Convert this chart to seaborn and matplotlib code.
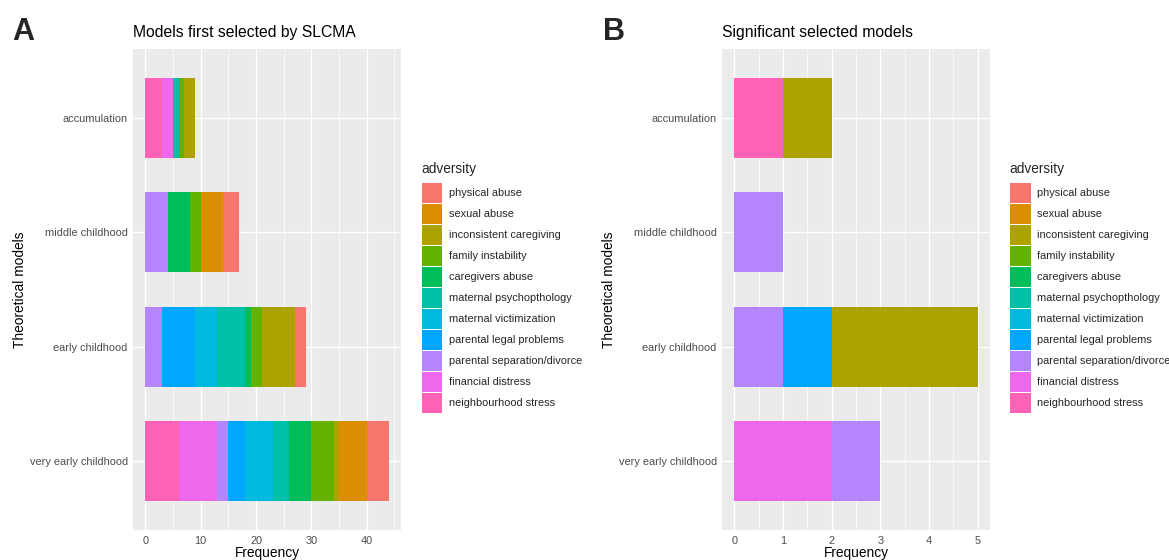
import numpy as np
import pandas as pd
import matplotlib
matplotlib.use("Agg")
import matplotlib.pyplot as plt
import seaborn as sns
from matplotlib.patches import Patch
from matplotlib.ticker import MultipleLocator

# ---------------- data ----------------
models = ["accumulation", "middle childhood", "early childhood", "very early childhood"]
adversities = ["physical abuse", "sexual abuse", "inconsistent caregiving",
               "family instability", "caregivers abuse", "maternal psychopthology",
               "maternal victimization", "parental legal problems",
               "parental separation/divorce", "financial distress",
               "neighbourhood stress"]
colors = ["#F8766D", "#DB8E00", "#AEA200", "#64B200", "#00BD5C", "#00C1A7",
          "#00BADE", "#00A6FF", "#B385FF", "#EF67EB", "#FF63B6"]

# counts per adversity (same order as `adversities`)
first_accumulation = [0, 0, 2, 1, 0, 1, 0, 0, 0, 2, 3]
first_middle = [3, 4, 0, 2, 4, 0, 0, 0, 4, 0, 0]
first_early = [2, 0, 6, 2, 1, 5, 4, 6, 3, 0, 0]
first_very_early = [4, 5, 1, 4, 4, 3, 5, 3, 2, 7, 6]

sig_accumulation = [0, 0, 1, 0, 0, 0, 0, 0, 0, 0, 1]
sig_middle = [0, 0, 0, 0, 0, 0, 0, 0, 1, 0, 0]
sig_early = [0, 0, 3, 0, 0, 0, 0, 1, 1, 0, 0]
sig_very_early = [0, 0, 0, 0, 0, 0, 0, 0, 1, 2, 0]

x_ticks_A = [0, 10, 20, 30, 40]
x_ticks_B = [0, 1, 2, 3, 4, 5]

# ---------------- style ----------------
sns.set_theme(style="darkgrid", rc={
    "axes.facecolor": "#EBEBEB",
    "figure.facecolor": "white",
    "grid.color": "white",
})
plt.rcParams["font.family"] = ["Liberation Sans", "DejaVu Sans"]

W, H = 1169, 560
fig = plt.figure(figsize=(W / 100, H / 100), dpi=100)


def fx(px):
    return px / W


def fy(py):
    return 1 - py / H


axA = fig.add_axes([fx(133.3), fy(530), fx(401 - 133.3), (530 - 49) / H])
axB = fig.add_axes([fx(722.3), fy(530), fx(990 - 722.3), (530 - 49) / H])


def draw(ax, rows, xlim, xticks, minor, title):
    df = pd.DataFrame(rows, index=models, columns=adversities)
    # stacked: last level sits at the baseline, first level on the far end
    cum = df.iloc[:, ::-1].cumsum(axis=1).iloc[:, ::-1]
    for i, adv in enumerate(adversities):
        d = pd.DataFrame({"model": models, "end": cum[adv].values,
                          "val": df[adv].values})
        d = d[d["val"] > 0]
        if d.empty:
            continue
        sns.barplot(data=d, x="end", y="model", order=models, color=colors[i],
                    width=0.7, saturation=1, errorbar=None, orient="h",
                    linewidth=0, ax=ax)
    ax.set_xlim(*xlim)
    ax.set_ylim(3.6, -0.6)
    ax.set_xticks(xticks)
    ax.xaxis.set_minor_locator(MultipleLocator(minor))
    ax.grid(which="major", axis="x", color="white", lw=1.0)
    ax.grid(which="minor", axis="x", color="white", lw=0.5)
    ax.yaxis.grid(True, which="major", color="white", lw=1.0)
    ax.set_axisbelow(True)
    for s in ax.spines.values():
        s.set_visible(False)
    ax.tick_params(axis="both", which="major", length=2.45, width=0.8,
                   color="#333333", labelsize=7.9, labelcolor="#4D4D4D", pad=1.6)
    ax.tick_params(axis="both", which="minor", length=0)
    ax.set_xlabel("Frequency", fontsize=9.9, color="black", va="top")
    ax.xaxis.set_label_coords(0.5, -(546.4 - 530) / 481)
    ax.set_ylabel("Theoretical models", fontsize=9.9, color="black")
    ax.yaxis.set_label_coords(-(133.3 - 27) / 267.7, 0.5)
    ax.set_title(title, loc="left", fontsize=11.3, pad=8.3, color="black")


draw(axA, [first_accumulation, first_middle, first_early, first_very_early],
     (-2.2, 46.2), x_ticks_A, 5, "Models first selected by SLCMA")
draw(axB, [sig_accumulation, sig_middle, sig_early, sig_very_early],
     (-0.25, 5.25), x_ticks_B, 0.5, "Significant selected models")

handles = [Patch(facecolor=c, edgecolor="none") for c in colors]
for kx, tx in [(421.7, 421.7), (1010, 1009)]:
    fig.legend(handles, adversities, loc="upper left",
               bbox_to_anchor=(fx(kx), fy(182.7)), frameon=False, borderpad=0,
               borderaxespad=0, fontsize=7.9, handlelength=1.88,
               handleheight=2.42, handletextpad=0.6, labelspacing=0.1)
    fig.text(fx(tx), fy(173.3), "adversity", fontsize=9.9, va="baseline")

fig.text(fx(12.7), fy(40), "A", fontsize=22, fontweight="bold", va="baseline")
fig.text(fx(602.7), fy(40), "B", fontsize=22, fontweight="bold", va="baseline")

fig.savefig("out.png", dpi=100)
